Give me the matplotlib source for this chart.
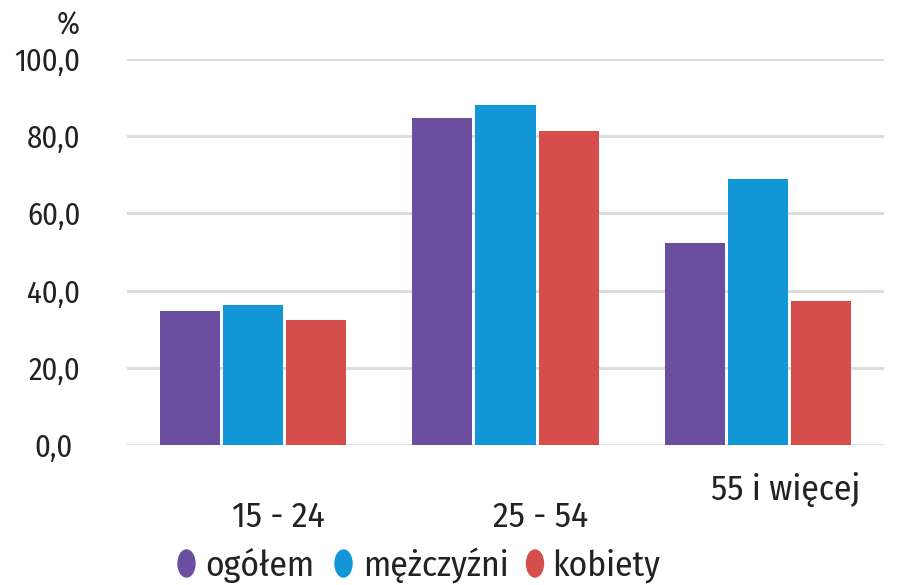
import numpy as np
import matplotlib.pyplot as plt
from matplotlib.patches import Ellipse
import matplotlib.transforms as mtransforms

plt.rcParams['font.family'] = ['Fira Sans Condensed', 'DejaVu Sans']

groups = ['15 - 24', '25 - 54', '55 i więcej']
series = ['ogółem', 'mężczyźni', 'kobiety']
ogolem = [34.8, 84.7, 52.3]
mezczyzni = [36.3, 88.1, 69.0]
kobiety = [32.4, 81.3, 37.4]
colors = ['#6a4fa0', '#1396d6', '#d54e4b']
txt_color = '#222222'

W, H = 898, 585
fig = plt.figure(figsize=(W / 100, H / 100), dpi=100)
ax = fig.add_axes([127 / W, 1 - 445 / H, 757 / W, 386 / H])

x = np.arange(len(groups))
w = 0.238
for i, (vals, c) in enumerate(zip([ogolem, mezczyzni, kobiety], colors)):
    ax.bar(x + (i - 1) * 0.25, vals, w, color=c, zorder=3)

ax.set_xlim(-0.5, 2.5)
ax.set_ylim(0, 100)
ax.set_yticks(np.arange(0, 101, 20))
ax.set_yticklabels([f'{v:.1f}'.replace('.', ',') for v in range(0, 101, 20)],
                   fontsize=22, color=txt_color)
ax.tick_params(axis='y', length=0, pad=33.5)
ax.set_xticks([])
ax.grid(axis='y', color='#d9d9d9', linewidth=2, zorder=0)
for s in ax.spines.values():
    s.set_visible(False)
ax.set_axisbelow(True)

# the 0,0 label sits a bit further left in the original
lab0 = ax.get_yticklabels()[0]
lab0.set_transform(lab0.get_transform() +
                   mtransforms.ScaledTranslation(-8 / 100, 0, fig.dpi_scale_trans))

# staggered category labels
trans = mtransforms.blended_transform_factory(ax.transData, ax.transAxes)
label_dx = [0.098, 0.137, 0.112]
label_y = [-0.2124, -0.2124, -0.1425]
for xi, lab, dx, ly in zip(x, groups, label_dx, label_y):
    ax.text(xi + dx, ly, lab, transform=trans, ha='center', va='baseline',
            fontsize=25.5, color=txt_color)

fig.text(80 / W, 1 - 26 / H, '%', ha='right', va='center', fontsize=22, color=txt_color)

# legend: oval markers + labels
leg_oval_x = [186.5, 343.5, 535]
leg_text_x = [205, 363, 552]
for c, lab, ox, tx in zip(colors, series, leg_oval_x, leg_text_x):
    fig.patches.append(Ellipse((ox / W, 1 - 563.5 / H), 17 / W, 27 / H,
                               transform=fig.transFigure, color=c))
    fig.text(tx / W, 1 - 576 / H, lab, ha='left', va='baseline',
             fontsize=25.5, color=txt_color)

fig.savefig('out.png', dpi=100)
